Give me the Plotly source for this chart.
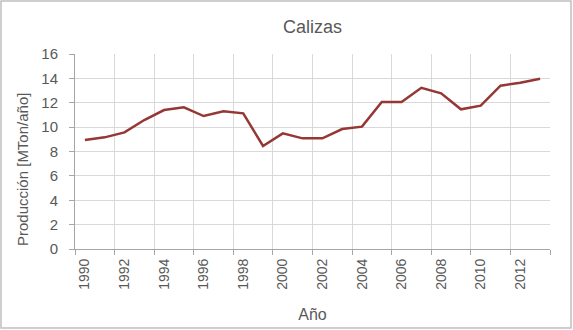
import plotly.graph_objects as go

years = list(range(1990, 2014))
produccion = [8.94, 9.16, 9.57, 10.58, 11.40, 11.62, 10.91, 11.30, 11.13, 8.45,
              9.49, 9.08, 9.08, 9.84, 10.04, 12.06, 12.06, 13.23, 12.77, 11.46,
              11.76, 13.40, 13.64, 13.97]
tick_years = list(range(1990, 2013, 2))
tick_labels = [str(y) for y in tick_years]

W, H = 573, 330
L, R, T, B = 75, 23, 54, 81
pw, ph = W - L - R, H - T - B

def px(x):
    return (x - L) / pw

def py(y):
    return (H - B - y) / ph

font = "Liberation Sans"
grey = "#595959"
grid = "#d9d9d9"

fig = go.Figure()
fig.add_trace(go.Scatter(x=years, y=produccion, mode="lines",
                         line=dict(color="#953735", width=2.5), showlegend=False))

fig.update_layout(
    width=W, height=H,
    margin=dict(l=L, r=R, t=T, b=B, autoexpand=False),
    paper_bgcolor="white", plot_bgcolor="white",
    title=dict(text="Calizas", x=0.5, xanchor="center", xref="paper",
               y=1 - 27 / H, yanchor="middle", automargin=False,
               font=dict(family=font, size=18, color=grey)),
    font=dict(family=font, color=grey),
    xaxis=dict(range=[1989.5, 2013.5], tickmode="array", tickvals=tick_years,
               ticktext=tick_labels, tickangle=-90, ticks="", showgrid=False,
               automargin=False, ticklabelstandoff=3,
               tickfont=dict(size=14, color=grey),
               showline=True, linecolor="#a6a6a6", linewidth=1, zeroline=False,
               minor=dict(tick0=1989.5, dtick=2, ticks="outside", ticklen=5,
                          tickcolor="#a6a6a6", showgrid=True, gridcolor=grid,
                          gridwidth=1),
               title=dict(text="Año", font=dict(size=16, color=grey), standoff=20)),
    yaxis=dict(range=[0, 16], dtick=2, tick0=0, showgrid=True, gridcolor=grid,
               gridwidth=1, ticks="outside", ticklen=5, tickcolor="#a6a6a6",
               showline=True, linecolor="#a6a6a6", linewidth=1, zeroline=False,
               automargin=False, ticklabelstandoff=8,
               tickfont=dict(size=15, color=grey)),
    annotations=[dict(text="Producción [MTon/año]", textangle=-90, showarrow=False,
                      xref="paper", yref="paper", x=px(22), y=py(170),
                      xanchor="center", yanchor="middle",
                      font=dict(family=font, size=15, color=grey))],
    shapes=[dict(type="rect", xref="paper", yref="paper",
                 x0=px(1), x1=px(571), y0=py(328), y1=py(1),
                 line=dict(color="#bfbfbf", width=1.5), layer="below")],
)

fig.write_html("out.html", config={"displayModeBar": False},
               post_script="document.body.style.margin='0';document.body.style.overflow='hidden';")
